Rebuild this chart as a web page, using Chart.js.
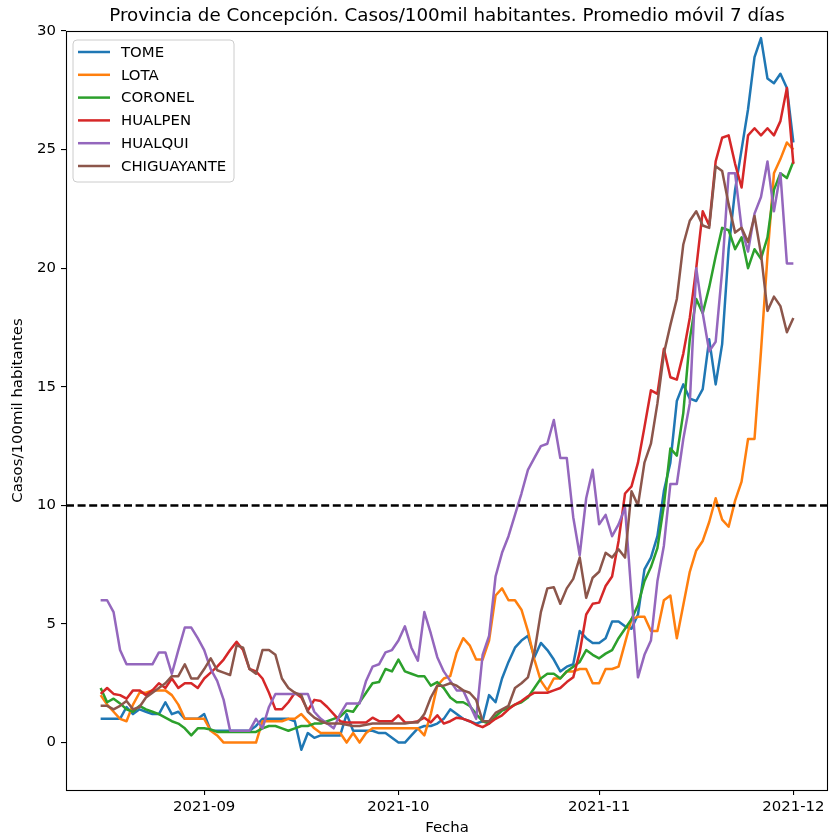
<!DOCTYPE html>
<html><head><meta charset="utf-8">
<script src="https://cdn.jsdelivr.net/npm/chart.js@4.4.1/dist/chart.umd.min.js"></script>
<style>html,body{margin:0;padding:0;background:#fff;}canvas{display:block;}</style>
</head><body>
<canvas id="c" width="829" height="837"></canvas>
<script>
// ---- data (daily, 2021-08-16 .. 2021-12-01) ----
const startDate = '2021-08-16';
const chartTitle = 'Provincia de Concepción. Casos/100mil habitantes. Promedio móvil 7 días';
const seriesNames = ['TOME','LOTA','CORONEL','HUALPEN','HUALQUI','CHIGUAYANTE'];
const seriesColors = ['#1f77b4','#ff7f0e','#2ca02c','#d62728','#9467bd','#8c564b'];

const tome = [1.0,1.0,1.0,1.0,1.5,1.2,1.4,1.3,1.2,1.2,
1.7,1.2,1.3,1.0,1.0,1.0,1.2,0.5,0.5,0.5,
0.5,0.5,0.5,0.5,0.7,1.0,1.0,1.0,1.0,1.0,
0.9,-0.3,0.4,0.2,0.3,0.3,0.3,0.3,1.2,0.5,
0.5,0.5,0.5,0.4,0.4,0.2,0.0,0.0,0.3,0.6,
0.7,0.7,0.8,1.0,1.4,1.2,1.0,0.9,0.8,0.9,
2.0,1.7,2.7,3.4,4.0,4.3,4.5,3.6,4.2,3.9,
3.5,3.0,3.2,3.3,4.7,4.4,4.2,4.2,4.4,5.1,
5.1,4.9,4.8,5.4,7.3,7.8,8.7,10.6,11.8,14.4,
15.1,14.5,14.4,14.9,17.0,15.1,16.8,20.8,23.3,25.0,
26.7,28.9,29.7,28.0,27.8,28.2,27.6,25.3];

const lota = [2.0,1.6,1.3,1.0,0.9,1.6,2.1,2.1,2.2,2.2,
2.2,2.0,1.6,1.0,1.0,1.0,1.0,0.5,0.3,0.0,
0.0,0.0,0.0,0.0,0.0,0.9,0.9,0.9,0.9,1.0,
1.0,1.2,0.9,0.6,0.4,0.4,0.4,0.4,0.0,0.4,
0.0,0.4,0.6,0.6,0.6,0.6,0.6,0.6,0.6,0.6,
0.3,1.2,2.4,2.7,2.8,3.8,4.4,4.1,3.5,3.5,
4.3,6.2,6.5,6.0,6.0,5.6,4.7,3.5,2.6,2.2,
2.7,2.7,3.0,3.0,3.1,3.1,2.5,2.5,3.1,3.1,
3.2,4.2,5.2,5.3,5.3,4.7,4.7,6.0,6.2,4.4,
5.8,7.2,8.1,8.5,9.3,10.3,9.4,9.1,10.2,11.0,
12.8,12.8,16.5,20.5,24.0,24.6,25.3,25.0];

const coronel = [2.3,1.7,1.85,1.65,1.4,1.3,1.55,1.4,1.3,1.2,
1.05,0.9,0.8,0.6,0.3,0.6,0.6,0.55,0.45,0.45,
0.45,0.45,0.45,0.45,0.45,0.6,0.7,0.7,0.6,0.5,
0.6,0.7,0.7,0.8,0.8,0.9,1.0,1.1,1.35,1.3,
1.7,2.1,2.5,2.55,3.1,3.0,3.5,3.0,2.9,2.8,
2.8,2.4,2.55,2.3,1.9,1.7,1.7,1.55,1.2,0.9,
0.8,1.1,1.35,1.45,1.6,1.7,1.9,2.3,2.7,2.9,
2.9,2.7,3.0,3.2,3.4,3.9,3.7,3.55,3.75,3.9,
4.4,4.8,5.2,5.8,6.8,7.4,8.2,10.0,12.4,12.1,
13.9,17.0,18.7,18.1,19.2,20.5,21.7,21.6,20.8,21.3,
20.0,20.8,20.4,21.3,23.3,24.0,23.8,24.5];

const hualpen = [2.05,2.3,2.05,2.0,1.85,2.2,2.2,2.0,2.2,2.5,
2.3,2.7,2.3,2.5,2.5,2.3,2.7,2.95,3.2,3.5,
3.9,4.25,3.9,3.1,3.0,2.7,2.1,1.4,1.4,1.7,
2.1,1.9,1.35,1.8,1.75,1.5,1.2,0.9,0.85,0.85,
0.85,0.85,1.05,0.9,0.9,0.9,1.15,0.85,0.85,0.9,
1.05,0.85,1.15,0.8,0.9,1.05,1.0,0.9,0.75,0.65,
0.8,1.0,1.15,1.4,1.6,1.75,1.95,2.1,2.1,2.1,
2.2,2.3,2.55,2.75,3.8,5.4,5.85,5.9,6.6,7.0,
8.5,10.5,10.8,11.8,13.3,14.85,14.7,16.6,15.4,15.3,
16.4,17.9,20.0,22.4,21.8,24.5,25.5,25.6,24.4,23.4,
25.6,25.9,25.6,25.9,25.6,26.2,27.6,24.4];

const hualqui = [6.0,6.0,5.5,3.9,3.3,3.3,3.3,3.3,3.3,3.8,
3.8,2.9,3.9,4.85,4.85,4.4,3.9,3.1,2.6,1.8,
0.5,0.5,0.5,0.5,1.0,0.6,1.5,2.05,2.05,2.05,
2.05,2.05,2.05,1.3,1.0,0.8,0.6,1.2,1.65,1.65,
1.65,2.6,3.2,3.3,3.8,3.9,4.3,4.9,4.0,3.45,
5.5,4.6,3.6,3.0,2.6,2.2,2.2,1.6,1.0,3.7,
4.5,7.0,8.0,8.7,9.6,10.5,11.5,12.0,12.5,12.6,
13.6,12.0,12.0,9.5,7.9,10.3,11.5,9.2,9.6,8.7,
9.2,9.9,6.2,2.75,3.7,4.3,6.8,8.3,10.9,10.9,
12.8,14.3,20.0,18.1,16.5,16.9,19.9,24.0,24.0,21.7,
20.7,22.3,23.0,24.5,22.4,24.0,20.2,20.2];

const chiguayante = [1.55,1.55,1.4,1.55,1.75,1.4,1.5,1.9,2.1,2.3,
2.5,2.8,2.8,3.3,2.7,2.7,3.1,3.55,3.05,2.95,
2.85,4.1,4.0,3.1,2.9,3.9,3.9,3.7,2.7,2.3,
2.1,2.0,1.3,1.05,0.9,0.8,0.8,0.8,0.75,0.7,
0.7,0.75,0.8,0.8,0.8,0.8,0.8,0.8,0.85,0.85,
1.2,1.9,2.4,2.4,2.5,2.4,2.2,2.1,1.8,0.9,
0.9,1.25,1.4,1.55,2.3,2.5,2.75,3.8,5.5,6.5,
6.55,5.85,6.5,6.9,7.8,6.1,6.95,7.2,8.0,7.8,
8.15,7.8,10.6,10.0,11.8,12.6,14.3,16.4,17.6,18.7,
21.0,22.0,22.4,21.8,21.7,24.3,24.1,22.7,21.5,21.7,
21.1,22.2,20.6,18.2,18.8,18.4,17.3,17.9];

const xTickDays = [16, 46, 77, 107];
const xTickLabels = ['2021-09', '2021-10', '2021-11', '2021-12'];
const yTicks = [0, 5, 10, 15, 20, 25, 30];
const threshold = 10;

// ---- build ----
const allSeries = [tome, lota, coronel, hualpen, hualqui, chiguayante];
const nDays = tome.length;
const xMin = -0.05 * (nDays - 1), xMax = (nDays - 1) * 1.05;
const FONT = "'DejaVu Sans', sans-serif";
const FS = 14.9;
const LW = 2.5;

const datasets = allSeries.map((vals, k) => ({
  label: seriesNames[k],
  data: vals.map((v, i) => ({x: i, y: v})),
  borderColor: seriesColors[k],
  backgroundColor: seriesColors[k],
  borderWidth: LW,
  pointRadius: 0,
  tension: 0,
  fill: false,
  borderJoinStyle: 'round',
  order: 10 - k
}));
datasets.push({
  label: '_threshold',
  data: [{x: xMin, y: threshold}, {x: xMax, y: threshold}],
  borderColor: '#000000',
  borderWidth: LW,
  borderDash: [8, 3.6],
  pointRadius: 0,
  fill: false,
  order: 0
});

const framePlugin = {
  id: 'frame',
  afterDraw(chart) {
    const {ctx, chartArea: a} = chart;
    ctx.save();
    ctx.strokeStyle = '#000';
    ctx.lineWidth = 1.1;
    ctx.strokeRect(Math.round(a.left) + 0.5, Math.round(a.top) + 0.5,
                   Math.round(a.right - a.left) - 1, Math.round(a.bottom - a.top));
    // title, centred over the plot area
    ctx.fillStyle = '#000';
    ctx.font = '18.3px ' + FONT;
    ctx.textAlign = 'center';
    ctx.textBaseline = 'middle';
    ctx.fillText(chartTitle, (a.left + a.right) / 2, a.top - 15);
    // legend
    const items = chart.data.datasets.filter(d => !d.label.startsWith('_'));
    const bx = a.left + 7, by = a.top + 9, bw = 161, bh = 142, r = 4;
    ctx.beginPath();
    ctx.moveTo(bx + r, by);
    ctx.arcTo(bx + bw, by, bx + bw, by + bh, r);
    ctx.arcTo(bx + bw, by + bh, bx, by + bh, r);
    ctx.arcTo(bx, by + bh, bx, by, r);
    ctx.arcTo(bx, by, bx + bw, by, r);
    ctx.closePath();
    ctx.fillStyle = 'rgba(255,255,255,0.8)';
    ctx.fill();
    ctx.strokeStyle = '#cccccc';
    ctx.lineWidth = 1;
    ctx.stroke();
    ctx.font = FS + 'px ' + FONT;
    ctx.textBaseline = 'middle';
    ctx.textAlign = 'left';
    items.forEach((d, k) => {
      const y = by + 12 + k * 22.8;
      ctx.strokeStyle = d.borderColor;
      ctx.lineWidth = LW;
      ctx.beginPath();
      ctx.moveTo(bx + 5, y);
      ctx.lineTo(bx + 37, y);
      ctx.stroke();
      ctx.fillStyle = '#000';
      ctx.fillText(d.label, bx + 48, y + 1);
    });
    ctx.restore();
  }
};

new Chart(document.getElementById('c'), {
  type: 'line',
  data: {datasets},
  plugins: [framePlugin],
  options: {
    responsive: false,
    animation: false,
    devicePixelRatio: 1,
    layout: {padding: {left: 0, right: 1, top: 31, bottom: 0}},
    plugins: {
      legend: {display: false},
      tooltip: {enabled: false},
      title: {display: false}
    },
    scales: {
      x: {
        type: 'linear',
        min: xMin, max: xMax,
        afterBuildTicks: s => { s.ticks = xTickDays.map(v => ({value: v})); },
        afterFit: s => { s.height = 47; },
        ticks: {
          color: '#000', font: {family: FONT, size: FS}, padding: 3,
          maxRotation: 0, autoSkip: false,
          callback: (v) => { const j = xTickDays.indexOf(v); return j >= 0 ? xTickLabels[j] : ''; }
        },
        grid: {drawOnChartArea: false, drawTicks: true, tickLength: 5, color: '#000', lineWidth: 1.1},
        border: {display: false},
        title: {display: true, text: 'Fecha', color: '#000', font: {family: FONT, size: FS}, padding: {top: 0, bottom: 0}}
      },
      y: {
        type: 'linear',
        min: -2, max: 30,
        afterBuildTicks: s => { s.ticks = yTicks.map(v => ({value: v})); },
        afterFit: s => { s.width = 66; },
        ticks: {color: '#000', font: {family: FONT, size: FS}, padding: 5},
        grid: {drawOnChartArea: false, drawTicks: true, tickLength: 5, color: '#000', lineWidth: 1.1},
        border: {display: false},
        title: {display: true, text: 'Casos/100mil habitantes', color: '#000', font: {family: FONT, size: FS}, padding: {top: 9, bottom: 0}}
      }
    }
  }
});
</script>
</body></html>
